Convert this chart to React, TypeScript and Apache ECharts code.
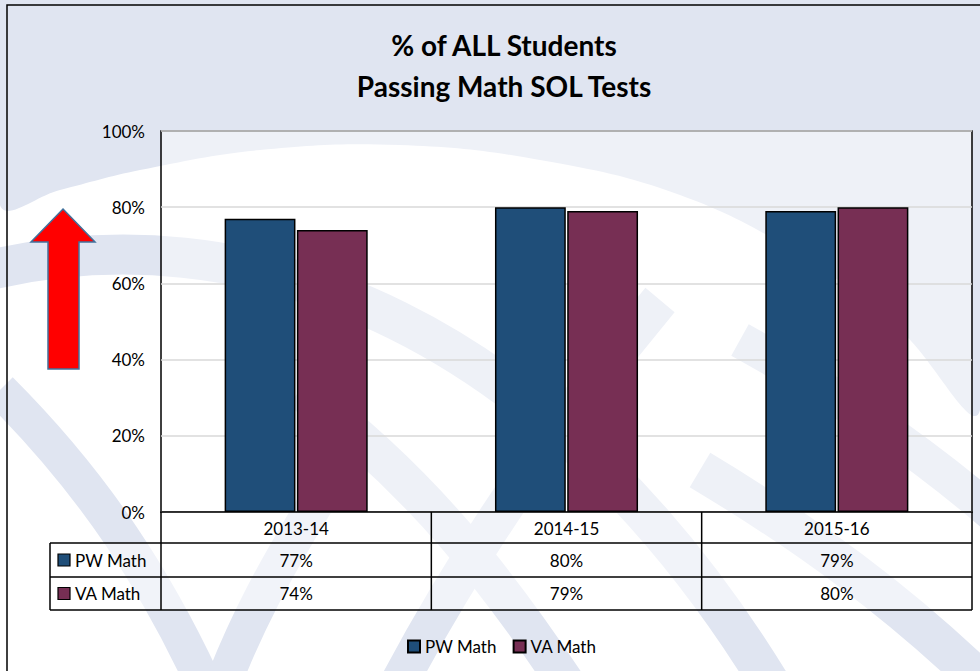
import React, { useEffect, useRef } from "react";
import * as echarts from "echarts";

const categories = ["2013-14", "2014-15", "2015-16"];
const seriesNames = ["PW Math", "VA Math"];
const pwMath = [77, 80, 79];
const vaMath = [74, 79, 80];
const yTicks = [0, 20, 40, 60, 80, 100];
const titleLines = ["% of ALL Students", "Passing Math SOL Tests"];

const W = 980;
const H = 671;
const GRID = { left: 161, top: 131, right: 972, bottom: 512 };
const ROWS = [512, 543, 577, 610];
const TABLE_LEFT = 50;
const COLORS = ["#1F4E79", "#772F54"];
const FONT = "Lato, 'Open Sans', sans-serif";
const BAND = "#e0e5f1";
const FS = 17;

export default function App() {
  const ref = useRef<HTMLDivElement>(null);
  useEffect(() => {
    if (!ref.current) return;
    const chart = echarts.init(ref.current, undefined, { renderer: "svg" });
    const values = [pwMath, vaMath];
    const bandW = (GRID.right - GRID.left) / categories.length;

    const bg: any[] = [
      { type: "rect", z: -20, shape: { x: 0, y: 0, width: W, height: H }, style: { fill: "#ffffff" } },
      {
        type: "polygon", z: -19,
        shape: { points: [[0, 0], [W, 0], [W, 410], [900, 330], [800, 255], [680, 195], [540, 160], [400, 145], [260, 150], [140, 170], [60, 190], [0, 205]], smooth: 0.4 },
        style: { fill: BAND },
      },
      { type: "polygon", z: -19, shape: { points: [[0, 0], [W, 0], [W, 120], [0, 120]] }, style: { fill: BAND } },
      { type: "bezierCurve", z: -18, shape: { x1: -30, y1: 275, cpx1: 250, cpy1: 200, cpx2: 560, cpy2: 330, x2: 780, y2: 700 }, style: { stroke: BAND, lineWidth: 40, fill: "none" } },
      { type: "bezierCurve", z: -18, shape: { x1: 300, y1: 390, cpx1: 420, cpy1: 480, cpx2: 500, cpy2: 580, x2: 590, y2: 720 }, style: { stroke: BAND, lineWidth: 38, fill: "none" } },
      { type: "bezierCurve", z: -18, shape: { x1: 660, y1: 300, cpx1: 560, cpy1: 420, cpx2: 460, cpy2: 560, x2: 380, y2: 720 }, style: { stroke: BAND, lineWidth: 38, fill: "none" } },
      { type: "bezierCurve", z: -18, shape: { x1: 0, y1: 390, cpx1: 90, cpy1: 480, cpx2: 160, cpy2: 580, x2: 220, y2: 720 }, style: { stroke: BAND, lineWidth: 36, fill: "none" } },
      { type: "bezierCurve", z: -18, shape: { x1: 330, y1: 480, cpx1: 280, cpy1: 560, cpx2: 240, cpy2: 630, x2: 210, y2: 720 }, style: { stroke: BAND, lineWidth: 36, fill: "none" } },
      { type: "bezierCurve", z: -18, shape: { x1: 700, y1: 470, cpx1: 800, cpy1: 530, cpx2: 900, cpy2: 600, x2: 1000, y2: 700 }, style: { stroke: BAND, lineWidth: 40, fill: "none" } },
      { type: "bezierCurve", z: -18, shape: { x1: 740, y1: 340, cpx1: 830, cpy1: 390, cpx2: 920, cpy2: 450, x2: 1000, y2: 520 }, style: { stroke: BAND, lineWidth: 36, fill: "none" } },
    ];

    const fg: any[] = [
      { type: "rect", z: 20, shape: { x: 7, y: 5, width: 1100, height: 800 }, style: { fill: "none", stroke: "#000", lineWidth: 1.5 } },
      {
        type: "polygon", z: 20,
        shape: { points: [[63, 209], [95, 242], [79, 242], [79, 369], [48, 369], [48, 242], [31, 242]] },
        style: { fill: "#ff0000", stroke: "#41719c", lineWidth: 1.5 },
      },
    ];
    titleLines.forEach((t, i) => {
      fg.push({ type: "text", z: 20, x: 504, y: 45 + i * 41, style: { text: t, align: "center", verticalAlign: "middle", font: `bold 28px ${FONT}`, fill: "#000" } });
    });

    fg.push({ type: "rect", z: 15, shape: { x: GRID.left, y: ROWS[0], width: GRID.right - GRID.left, height: ROWS[3] - ROWS[0] }, style: { fill: "rgba(255,255,255,0.55)" } });
    fg.push({ type: "rect", z: 15, shape: { x: TABLE_LEFT, y: ROWS[1], width: GRID.left - TABLE_LEFT, height: ROWS[3] - ROWS[1] }, style: { fill: "rgba(255,255,255,0.55)" } });
    const line = (x1: number, y1: number, x2: number, y2: number) => ({ type: "line", z: 21, shape: { x1, y1, x2, y2 }, style: { stroke: "#000", lineWidth: 1.5 } });
    fg.push(line(TABLE_LEFT, ROWS[1], GRID.right, ROWS[1]));
    fg.push(line(TABLE_LEFT, ROWS[2], GRID.right, ROWS[2]));
    fg.push(line(TABLE_LEFT, ROWS[3], GRID.right, ROWS[3]));
    fg.push(line(TABLE_LEFT, ROWS[1], TABLE_LEFT, ROWS[3]));
    for (let i = 0; i <= categories.length; i++) {
      const x = GRID.left + i * bandW;
      fg.push(line(x, ROWS[0], x, ROWS[3]));
    }
    seriesNames.forEach((n, r) => {
      const cy = (ROWS[r + 1] + ROWS[r + 2]) / 2;
      fg.push({ type: "rect", z: 21, shape: { x: 58, y: cy - 6, width: 12, height: 12 }, style: { fill: COLORS[r], stroke: "#000", lineWidth: 1.2 } });
      fg.push({ type: "text", z: 21, x: 75, y: cy, style: { text: n, align: "left", verticalAlign: "middle", font: `${FS}px ${FONT}`, fill: "#000" } });
      values[r].forEach((v, c) => {
        fg.push({ type: "text", z: 21, x: GRID.left + (c + 0.5) * bandW, y: cy, style: { text: v + "%", align: "center", verticalAlign: "middle", font: `${FS}px ${FONT}`, fill: "#000" } });
      });
    });

    chart.setOption({
      animation: false,
      backgroundColor: "transparent",
      textStyle: { fontFamily: FONT },
      grid: {
        left: GRID.left, top: GRID.top, right: W - GRID.right, bottom: H - GRID.bottom,
        show: true, borderColor: "#000", borderWidth: 1.5, backgroundColor: "rgba(255,255,255,0.45)",
      },
      legend: {
        data: seriesNames, left: 402, top: 633, icon: "rect", itemWidth: 12, itemHeight: 12, itemGap: 16,
        textStyle: { fontSize: FS, color: "#000", fontFamily: FONT },
      },
      xAxis: {
        type: "category", data: categories,
        axisLine: { show: true, lineStyle: { color: "#000", width: 1.5 } },
        axisTick: { show: false },
        axisLabel: { margin: 8, fontSize: FS, color: "#000", fontFamily: FONT },
        z: 22,
      },
      yAxis: {
        type: "value", min: yTicks[0], max: yTicks[yTicks.length - 1], interval: 20,
        axisLine: { show: false }, axisTick: { show: false },
        axisLabel: { formatter: "{value}%", fontSize: FS, color: "#000", margin: 16, fontFamily: FONT },
        splitLine: { lineStyle: { color: "#d9d9d9", width: 1.5 } },
      },
      series: seriesNames.map((n, i) => ({
        name: n, type: "bar", data: values[i], barWidth: "26.2%", barGap: "2%",
        itemStyle: { color: COLORS[i], borderColor: "#000", borderWidth: 1.5 },
      })),
      graphic: [...bg, ...fg],
    });
    return () => chart.dispose();
  }, []);
  return <div ref={ref} style={{ position: "absolute", left: 0, top: 0, width: W, height: H }} />;
}
